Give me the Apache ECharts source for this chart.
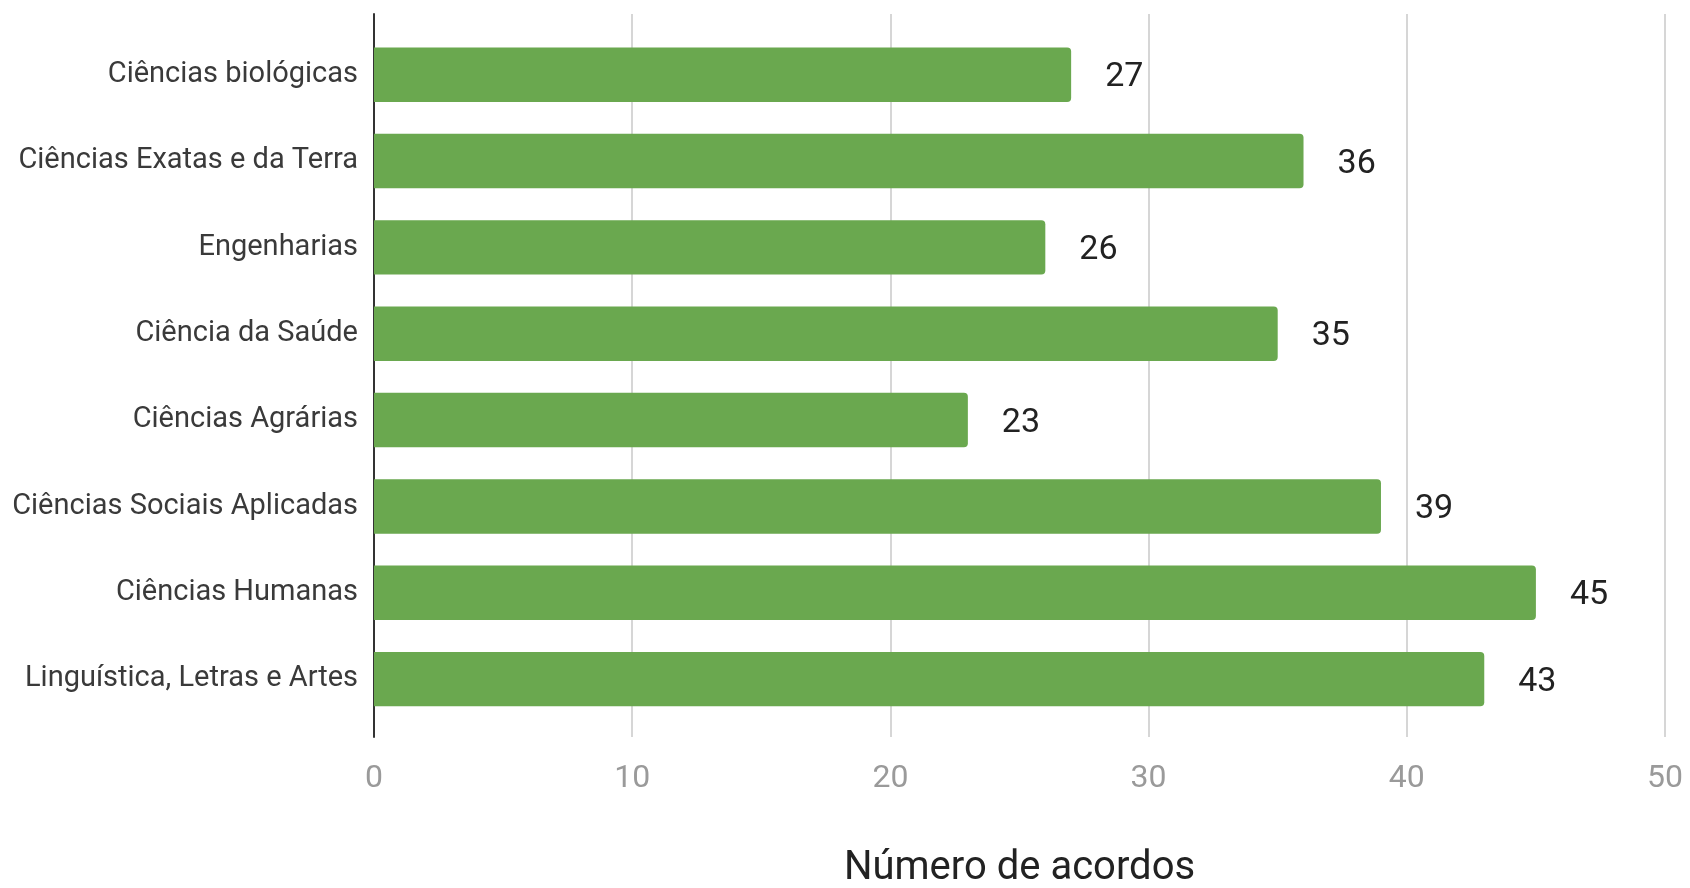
<!DOCTYPE html>
<html>
<head>
<meta charset="utf-8">
<script src="https://cdn.jsdelivr.net/npm/echarts@6/dist/echarts.min.js"></script>
<style>
html,body{margin:0;padding:0;background:#fff;}
#chart{width:1690px;height:888px;}
</style>
</head>
<body>
<div id="chart"></div>
<script>
const categories = [
  "Ciências biológicas",
  "Ciências Exatas e da Terra",
  "Engenharias",
  "Ciência da Saúde",
  "Ciências Agrárias",
  "Ciências Sociais Aplicadas",
  "Ciências Humanas",
  "Linguística, Letras e Artes"
];
const values = [27, 36, 26, 35, 23, 39, 45, 43];
const xTicks = [0, 10, 20, 30, 40, 50];
const axisTitle = "Número de acordos";

const chart = echarts.init(document.getElementById('chart'), null, {renderer: 'canvas'});
const FONT = 'Roboto';
chart.setOption({
  animation: false,
  backgroundColor: '#ffffff',
  grid: [
    {left: 374, right: 25, top: 14, bottom: 151, containLabel: false, outerBoundsMode: 'none'},
    {left: 374, right: 25, top: 31.5, bottom: 165.7, containLabel: false, outerBoundsMode: 'none'}
  ],
  xAxis: [
    {
      gridIndex: 0,
      type: 'value',
      min: xTicks[0],
      max: xTicks[xTicks.length - 1],
      interval: xTicks[1] - xTicks[0],
      name: axisTitle,
      nameLocation: 'middle',
      nameGap: 112,
      nameTextStyle: {fontFamily: FONT, fontSize: 40, color: '#222222'},
      axisLine: {show: false},
      axisTick: {show: false},
      axisLabel: {fontFamily: FONT, fontSize: 32, color: '#9a9a9a', margin: 26},
      splitLine: {show: true, lineStyle: {color: '#d6d6d6', width: 2}}
    },
    {
      gridIndex: 1,
      type: 'value',
      min: xTicks[0],
      max: xTicks[xTicks.length - 1],
      show: false
    }
  ],
  yAxis: [
    {
      gridIndex: 0,
      type: 'value',
      min: 0,
      max: 1,
      axisLine: {show: true, onZero: false, lineStyle: {color: '#333333', width: 2}},
      axisTick: {show: false},
      axisLabel: {show: false},
      splitLine: {show: false}
    },
    {
      gridIndex: 1,
      type: 'category',
      inverse: true,
      data: categories,
      axisLine: {show: false},
      axisTick: {show: false},
      axisLabel: {fontFamily: FONT, fontSize: 29, color: '#3a3a3a', margin: 16, lineHeight: 29, padding: [6, 0, 0, 0]},
      splitLine: {show: false}
    }
  ],
  series: [{
    type: 'bar',
    xAxisIndex: 1,
    yAxisIndex: 1,
    data: values,
    barWidth: '63%',
    itemStyle: {color: '#6aa84f', borderRadius: [0, 4, 4, 0]},
    label: {
      show: true,
      position: 'right',
      distance: 34,
      offset: [0, 3],
      fontFamily: FONT,
      fontSize: 34,
      color: '#222222'
    }
  }]
});
</script>
</body>
</html>
